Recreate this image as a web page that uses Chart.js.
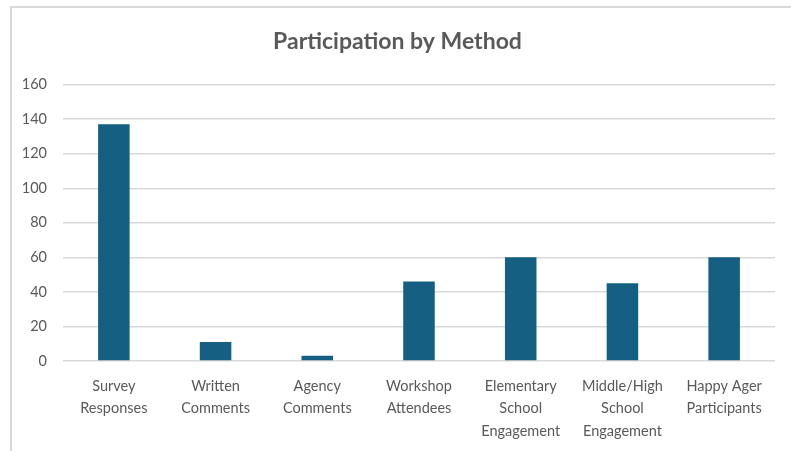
<!DOCTYPE html>
<html>
<head>
<meta charset="utf-8">
<style>
  html, body { margin: 0; padding: 0; background: #ffffff; }
  #wrap { position: absolute; left: 0; top: 0; width: 791px; height: 451px; }
  #frame { position: absolute; left: 10px; top: 6px; right: -4px; bottom: -4px;
           border-left: 2px solid #d9d9d9; border-top: 2px solid #d9d9d9; pointer-events: none; }
  canvas { position: absolute; left: 0; top: 0; }
</style>
<script src="https://cdn.jsdelivr.net/npm/chart.js@4/dist/chart.umd.min.js"></script>
</head>
<body>
<div id="wrap">
  <canvas id="chart" width="791" height="451"></canvas>
  <div id="frame"></div>
</div>
<script>
// Participation counts per outreach method
const categories = [
  ["Survey", "Responses"],
  ["Written", "Comments"],
  ["Agency", "Comments"],
  ["Workshop", "Attendees"],
  ["Elementary", "School", "Engagement"],
  ["Middle/High", "School", "Engagement"],
  ["Happy Ager", "Participants"]
];
const participants = [137, 11, 3, 46, 60, 45, 60];
const yTicks = [0, 20, 40, 60, 80, 100, 120, 140, 160];

const textColor = '#595959';
const gridColor = '#d9d9d9';
const fontFamily = 'Lato, "Liberation Sans", sans-serif';

new Chart(document.getElementById('chart'), {
  type: 'bar',
  data: {
    labels: categories,
    datasets: [{
      label: 'Participants',
      data: participants,
      backgroundColor: '#156082',
      borderWidth: 0,
      barPercentage: 0.62,
      categoryPercentage: 0.5
    }]
  },
  options: {
    responsive: false,
    animation: false,
    layout: { padding: { left: 20, right: 16, top: 0, bottom: 0 } },
    plugins: {
      legend: { display: false },
      tooltip: { enabled: false },
      title: {
        display: true,
        text: 'Participation by Method',
        color: textColor,
        font: { family: fontFamily, size: 23, weight: 'bold' },
        padding: { top: 28, bottom: 29 }
      }
    },
    scales: {
      x: {
        afterFit: (scale) => { scale.height = 90; },
        grid: { display: false },
        border: { display: false },
        ticks: {
          color: textColor,
          font: { family: fontFamily, size: 14.5, lineHeight: 1.55 },
          padding: 6,
          maxRotation: 0,
          autoSkip: false
        }
      },
      y: {
        min: 0,
        max: 160,
        afterBuildTicks: (scale) => { scale.ticks = yTicks.map(v => ({ value: v })); },
        afterFit: (scale) => { scale.width = 43; },
        grid: { color: gridColor, lineWidth: 1.5, drawTicks: false },
        border: { display: false },
        ticks: {
          color: textColor,
          font: { family: fontFamily, size: 14.5 },
          padding: 16
        }
      }
    }
  }
});
</script>
</body>
</html>
